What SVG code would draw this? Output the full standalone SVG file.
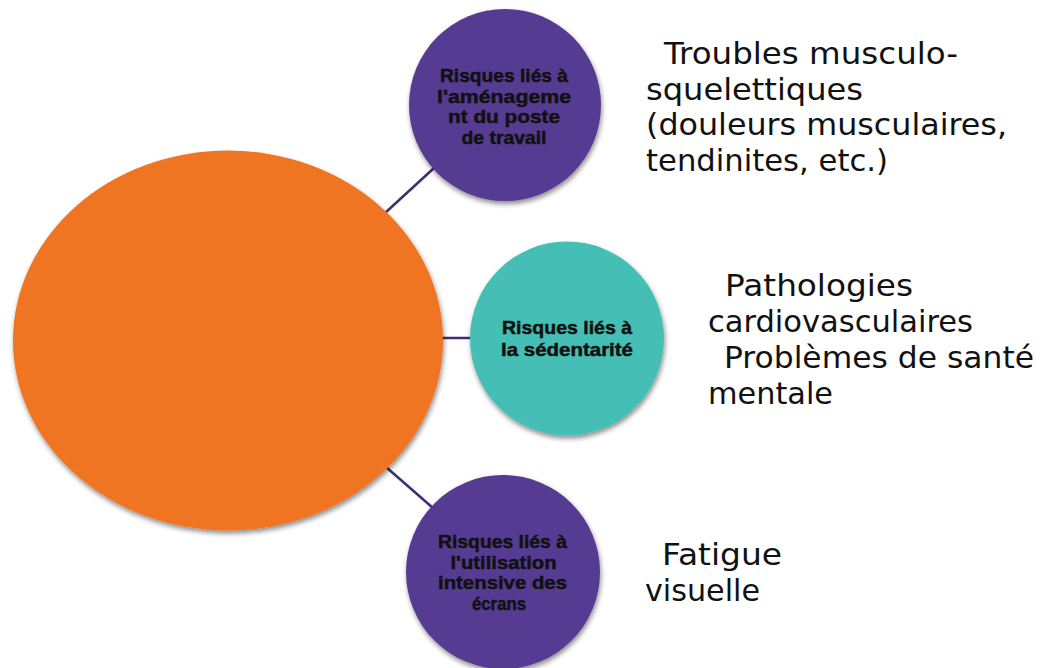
<svg xmlns="http://www.w3.org/2000/svg" width="1049" height="668" viewBox="0 0 1049 668">
<defs>
<filter id="sh" x="-20%" y="-20%" width="140%" height="140%">
<feDropShadow dx="1" dy="3" stdDeviation="2.5" flood-color="#000" flood-opacity="0.45"/>
</filter>
<style>
.conn{stroke:#3f2d73;stroke-width:2.5;fill:none}
.purple{fill:#563a92;filter:url(#sh)}
.teal{fill:#45bfb5;filter:url(#sh)}
.orange{fill:#f07522;filter:url(#sh)}
.nt{font-family:"Liberation Sans",Arial,sans-serif;font-weight:bold;font-size:19px;fill:#111;stroke:#111;stroke-width:0.5;text-anchor:middle}
.lt{font-family:"DejaVu Sans","Liberation Sans",sans-serif;font-size:30px;fill:#111}
</style>
</defs>
<rect width="1049" height="668" fill="#fff"/>
<g id="connectors">
<line class="conn" x1="385" y1="213" x2="434" y2="168"/>
<line class="conn" x1="442" y1="338" x2="470" y2="338"/>
<line class="conn" x1="386" y1="467" x2="433" y2="508"/>
</g>
<g id="center">
<ellipse class="orange" cx="228" cy="340.5" rx="215" ry="190"/>
</g>
<g id="node-amenagement">
<circle class="purple" cx="505" cy="105" r="96"/>
<text class="nt"><tspan x="504" y="82" textLength="128" lengthAdjust="spacingAndGlyphs">Risques liés à</tspan><tspan x="504" y="102.5" textLength="134" lengthAdjust="spacingAndGlyphs">l'aménageme</tspan><tspan x="504" y="123" textLength="112" lengthAdjust="spacingAndGlyphs">nt du poste</tspan><tspan x="504" y="143.5" textLength="85" lengthAdjust="spacingAndGlyphs">de travail</tspan></text>
</g>
<g id="node-sedentarite">
<circle class="teal" cx="567" cy="338.5" r="97"/>
<text class="nt"><tspan x="567" y="334" textLength="130" lengthAdjust="spacingAndGlyphs">Risques liés à</tspan><tspan x="567" y="356" textLength="132" lengthAdjust="spacingAndGlyphs">la sédentarité</tspan></text>
</g>
<g id="node-ecrans">
<circle class="purple" cx="503" cy="572" r="97"/>
<text class="nt"><tspan x="502.5" y="548" textLength="129" lengthAdjust="spacingAndGlyphs">Risques liés à</tspan><tspan x="503.5" y="568.5" textLength="106" lengthAdjust="spacingAndGlyphs">l'utilisation</tspan><tspan x="502.5" y="589" textLength="129" lengthAdjust="spacingAndGlyphs">intensive des</tspan><tspan x="499" y="609.5" textLength="54" lengthAdjust="spacingAndGlyphs">écrans</tspan></text>
</g>
<g id="label-tms">
<text class="lt"><tspan x="664" y="64" textLength="294" lengthAdjust="spacingAndGlyphs">Troubles musculo-</tspan><tspan x="646" y="99.5" textLength="217" lengthAdjust="spacingAndGlyphs">squelettiques</tspan><tspan x="646" y="135" textLength="361" lengthAdjust="spacingAndGlyphs">(douleurs musculaires,</tspan><tspan x="646" y="170.5" textLength="242" lengthAdjust="spacingAndGlyphs">tendinites, etc.)</tspan></text>
</g>
<g id="label-sedentarite">
<text class="lt"><tspan x="725" y="296" textLength="188" lengthAdjust="spacingAndGlyphs">Pathologies</tspan><tspan x="708" y="331.5" textLength="265" lengthAdjust="spacingAndGlyphs">cardiovasculaires</tspan><tspan x="724" y="368" textLength="310" lengthAdjust="spacingAndGlyphs">Problèmes de santé</tspan><tspan x="708" y="403.5" textLength="125" lengthAdjust="spacingAndGlyphs">mentale</tspan></text>
</g>
<g id="label-ecrans">
<text class="lt"><tspan x="662" y="565" textLength="120" lengthAdjust="spacingAndGlyphs">Fatigue</tspan><tspan x="645" y="600.5" textLength="115" lengthAdjust="spacingAndGlyphs">visuelle</tspan></text>
</g>
</svg>
